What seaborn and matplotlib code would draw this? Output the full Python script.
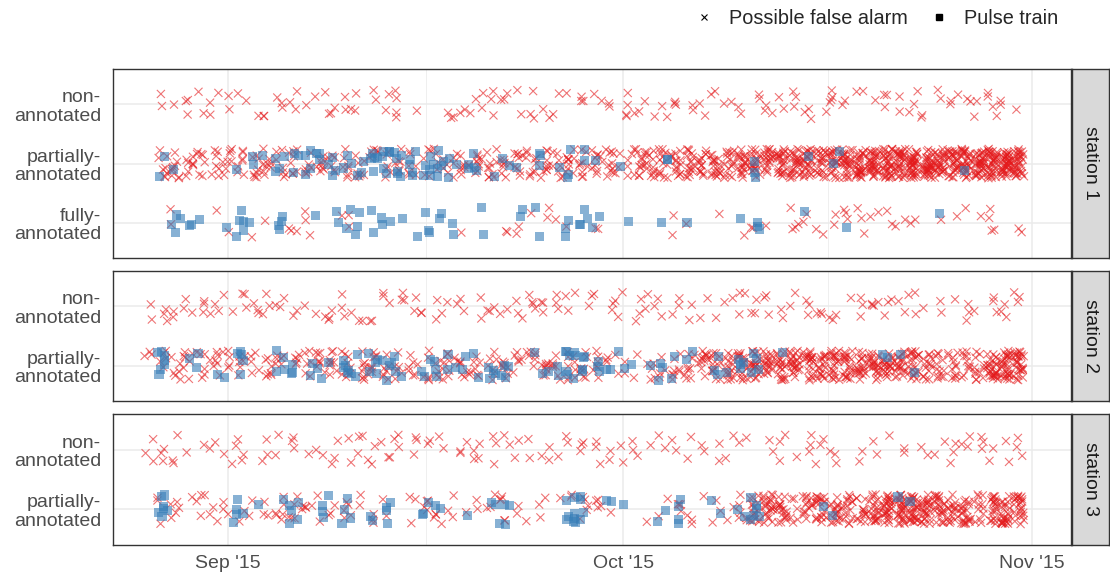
import numpy as np
import pandas as pd
import matplotlib
matplotlib.use("Agg")
import matplotlib.pyplot as plt
import matplotlib.dates as mdates
from matplotlib.lines import Line2D
from matplotlib.ticker import FixedLocator
import seaborn as sns
import seaborn.objects as so

# - - - data: events per day, Aug 26 .. Oct 31 2015 (67 days) - - - #
days = pd.date_range("2015-08-26", "2015-10-31", freq="D")

# station 1
s1_non_alarm = [0, 2, 1, 3, 2, 3, 2, 2, 1, 2, 3, 3, 1, 2, 3, 3, 2, 2, 2, 4, 1, 0, 0, 3, 3, 3, 3, 3, 2, 3, 2, 2, 1, 3, 2, 2,
                4, 2, 2, 2, 3, 2, 2, 2, 2, 2, 2, 3, 2, 3, 3, 1, 4, 2, 2, 1, 3, 2, 3, 2, 2, 3, 2, 2, 4, 2, 1]
s1_part_alarm = [0, 8, 9, 8, 7, 7, 8, 7, 8, 9, 7, 8, 7, 8, 6, 7, 8, 7, 6, 6, 7, 5, 6, 6, 8, 9, 10, 8, 9, 10, 9, 8, 10, 9,
                 10, 11, 5, 12, 14, 13, 15, 16, 14, 18, 16, 20, 22, 20, 25, 28, 26, 22, 24, 30, 32, 35, 36, 34, 38,
                 36, 32, 30, 34, 36, 38, 40, 35]
s1_part_pulse = [0, 2, 1, 0, 0, 0, 0, 1, 2, 1, 4, 3, 4, 3, 4, 3, 3, 5, 6, 6, 5, 5, 6, 3, 2, 3, 1, 2, 1, 0, 3, 1, 3, 2, 1,
                 0, 1, 0, 0, 2, 0, 0, 0, 0, 0, 0, 3, 0, 0, 0, 1, 0, 2, 0, 0, 0, 0, 0, 0, 0, 0, 0, 1, 0, 0, 0, 0]
s1_full_alarm = [0, 0, 2, 0, 0, 1, 1, 0, 1, 1, 0, 3, 3, 0, 0, 3, 0, 0, 0, 0, 0, 0, 0, 0, 1, 0, 0, 2, 2, 1,
                 2, 1, 1, 0, 2, 0, 0, 0, 0, 0, 2, 1, 0, 1, 0, 1, 2, 1, 0, 4, 2, 2, 2, 3, 3, 2, 2, 2, 2, 0,
                 1, 1, 1, 1, 4, 0, 2]
s1_full_pulse = [0, 0, 4, 2, 1, 0, 1, 5, 1, 0, 4, 0, 0, 1, 2, 2, 3, 2, 3, 1, 1, 3, 2, 2, 0, 2, 0, 0, 2, 1, 1, 0, 3, 4, 2,
                 0, 1, 0, 0, 1, 0, 1, 0, 0, 0, 1, 3, 0, 0, 0, 1, 0, 0, 1, 0, 0, 0, 0, 0, 0, 1, 0, 0, 0, 0, 0, 0]

# station 2
s2_non_alarm = [2, 3, 2, 3, 3, 3, 2, 3, 3, 3, 3, 2, 1, 2, 3, 4, 2, 2, 3, 3, 2, 2, 3, 2, 2, 2, 3, 2, 3, 4, 3, 3, 3, 1,
                2, 3, 2, 3, 3, 2, 3, 2, 2, 1, 2, 3, 3, 3, 2, 2, 3, 3, 3, 1, 3, 4, 3, 2, 3, 1, 2, 1, 3, 1, 3, 3, 3]
s2_part_alarm = [3, 5, 6, 7, 6, 7, 5, 6, 5, 7, 6, 5, 6, 8, 9, 9, 8, 9, 7, 6, 7, 6, 8, 7, 8, 6, 7, 8, 6, 7, 8, 7, 9, 8,
                 7, 4, 3, 2, 5, 4, 8, 9, 12, 14, 16, 20, 22, 20, 22, 24, 22, 20, 22, 22, 20, 24, 22, 20, 22, 14, 12,
                 12, 10, 12, 28, 30, 28]
s2_part_pulse = [0, 7, 0, 1, 2, 1, 1, 5, 0, 0, 4, 3, 2, 2, 1, 6, 2, 5, 4, 3, 0, 3, 3, 3, 2, 2, 4, 4, 0, 1, 2, 2, 8, 4,
                 3, 2, 2, 1, 1, 3, 2, 2, 0, 3, 1, 4, 4, 0, 1, 0, 0, 0, 0, 0, 0, 0, 2, 1, 1, 0, 0, 0, 0, 0, 0, 0, 0]

# station 3
s3_non_alarm = [3, 3, 3, 1, 1, 2, 2, 4, 0, 3, 2, 3, 1, 2, 3, 2, 3, 3, 3, 3, 3, 2, 2, 0, 3, 4, 3, 2, 2, 2, 3, 1, 2, 3,
                3, 2, 2, 3, 1, 2, 2, 2, 2, 2, 2, 2, 0, 2, 3, 1, 3, 3, 3, 0, 2, 2, 1, 2, 0, 2, 2, 3, 3, 3, 2, 2, 3]
s3_part_alarm = [0, 3, 5, 1, 4, 3, 3, 2, 2, 3, 6, 5, 5, 2, 3, 5, 2, 3, 2, 0, 3, 4, 4, 3, 1, 2, 3, 5, 2, 1, 3, 1, 2, 5,
                 4, 1, 0, 0, 1, 2, 4, 3, 1, 3, 2, 6, 16, 22, 18, 6, 14, 20, 18, 16, 14, 22, 28, 30, 32, 26, 24, 18,
                 22, 12, 20, 26, 24]
s3_part_pulse = [0, 7, 0, 0, 0, 0, 1, 4, 1, 0, 1, 5, 0, 3, 1, 4, 0, 2, 4, 0, 0, 3, 2, 0, 1, 0, 2, 4, 0, 0, 0, 0, 8, 4,
                 0, 2, 1, 0, 0, 2, 4, 0, 0, 2, 0, 2, 6, 0, 0, 0, 0, 1, 1, 0, 0, 0, 0, 1, 1, 0, 0, 0, 0, 0, 0, 0, 0]

stations = ["station 1", "station 2", "station 3"]
levels = {
    "station 1": ["non-\nannotated", "partially-\nannotated", "fully-\nannotated"],
    "station 2": ["non-\nannotated", "partially-\nannotated"],
    "station 3": ["non-\nannotated", "partially-\nannotated"],
}
ALARM, PULSE = "Possible false alarm", "Pulse train"

series = [
    ("station 1", 0, ALARM, s1_non_alarm),
    ("station 1", 1, ALARM, s1_part_alarm),
    ("station 1", 1, PULSE, s1_part_pulse),
    ("station 1", 2, ALARM, s1_full_alarm),
    ("station 1", 2, PULSE, s1_full_pulse),
    ("station 2", 0, ALARM, s2_non_alarm),
    ("station 2", 1, ALARM, s2_part_alarm),
    ("station 2", 1, PULSE, s2_part_pulse),
    ("station 3", 0, ALARM, s3_non_alarm),
    ("station 3", 1, ALARM, s3_part_alarm),
    ("station 3", 1, PULSE, s3_part_pulse),
]

frames = []
for station, lev, kind, counts in series:
    assert len(counts) == len(days), (station, lev, kind, len(counts))
    t = np.repeat(days.values, counts)
    frames.append(pd.DataFrame({"station": station, "level": levels[station][lev], "kind": kind, "time": t}))
df = pd.concat(frames, ignore_index=True)
df["num"] = mdates.date2num(df["time"])

RED = "#E41A1C"
BLUE = "#377EB8"
GRID = "#EBEBEB"
DARK = "#333333"
TXT = "#4D4D4D"

sns.set_style("white")
plt.rcParams["font.family"] = ["Liberation Sans", "DejaVu Sans"]

W, H = 1110, 577
fig = plt.figure(figsize=(W / 100, H / 100), dpi=100)

# panel pixel boxes (top, bottom)
boxes = [(69, 258), (271, 401), (414, 545)]
left_px, right_px = 113, 1071
strip_l, strip_r = 1072, 1109

xmin = mdates.date2num(pd.Timestamp("2015-08-23 06:30"))
xmax = mdates.date2num(pd.Timestamp("2015-11-03 23:00"))
minor = mdates.date2num([pd.Timestamp("2015-09-16 00:00"), pd.Timestamp("2015-10-16 12:00")])

for i, (station, (top, bot)) in enumerate(zip(stations, boxes)):
    rect = [left_px / W, 1 - bot / H, (right_px - left_px) / W, (bot - top) / H]
    ax = fig.add_axes(rect)
    sub = df[df.station == station]
    order = levels[station]
    n = len(order)

    # jitter like geom_jitter: +-0.4 day horizontally, +-0.25 level vertically
    (
        so.Plot()
        .add(so.Dot(marker="x", color=RED, alpha=0.6, pointsize=5.8, stroke=0.8),
             so.Jitter(x=0.8, y=0.5, seed=11 + i), data=sub[sub.kind == ALARM],
             x="num", y="level", legend=False)
        .add(so.Dot(marker="s", color=BLUE, alpha=0.6, pointsize=6.5, edgewidth=0),
             so.Jitter(x=0.8, y=0.5, seed=21 + i), data=sub[sub.kind == PULSE],
             x="num", y="level", legend=False)
        .scale(y=so.Nominal(order=order))
        .on(ax)
        .plot()
    )

    ax.set_facecolor("white")
    ax.set_xlim(xmin, xmax)
    ax.set_ylim(n - 1 + 0.6, -0.6)
    ax.set_xlabel("")
    ax.set_ylabel("")

    ax.xaxis.set_major_locator(mdates.MonthLocator())
    ax.xaxis.set_major_formatter(mdates.DateFormatter("%b '%y"))
    ax.xaxis.set_minor_locator(FixedLocator(minor))
    ax.set_axisbelow(True)
    ax.grid(True, which="major", axis="both", color=GRID, linewidth=1.1)
    ax.grid(True, which="minor", axis="x", color=GRID, linewidth=0.55)
    ax.tick_params(axis="y", length=4, width=1, color=DARK, labelsize=14, labelcolor=TXT, pad=4.5)
    ax.tick_params(axis="x", which="minor", length=0)
    if i < 2:
        ax.tick_params(axis="x", which="major", length=0, labelbottom=False)
    else:
        ax.tick_params(axis="x", which="major", length=4, width=1, color=DARK,
                       labelsize=14, labelcolor=TXT, pad=3)
    for sp in ax.spines.values():
        sp.set_visible(True)
        sp.set_color(DARK)
        sp.set_linewidth(1.0)
    for lab in ax.get_yticklabels():
        lab.set_horizontalalignment("right")
        lab.set_multialignment("right")
        lab.set_linespacing(1.12)

    # facet strip on the right
    sax = fig.add_axes([strip_l / W, 1 - bot / H, (strip_r - strip_l) / W, (bot - top) / H])
    sax.set_facecolor("#D9D9D9")
    sax.set_xticks([])
    sax.set_yticks([])
    for sp in sax.spines.values():
        sp.set_visible(True)
        sp.set_color(DARK)
        sp.set_linewidth(1.0)
    sax.text(0.5, 0.5, station, rotation=-90, ha="center", va="center",
             fontsize=14, color="#1A1A1A", transform=sax.transAxes)

handles = [
    Line2D([], [], marker="x", ls="", color="black", markersize=5, mew=0.8),
    Line2D([], [], marker="s", ls="", color="black", markersize=4.5),
]
fig.legend(handles, [ALARM, PULSE], ncol=2, loc="upper right", bbox_to_anchor=(1076 / W, 1.016),
           frameon=False, fontsize=14.3, handletextpad=0.75, columnspacing=1.1, handlelength=1.0)

fig.savefig("out.png", dpi=100)
